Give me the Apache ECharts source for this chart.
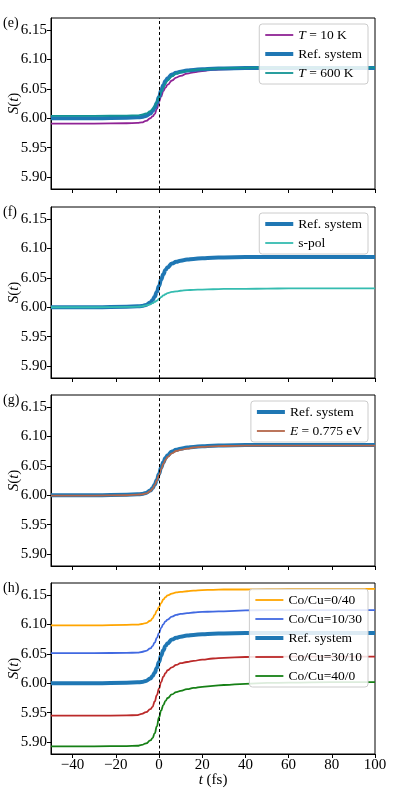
<!DOCTYPE html>
<html>
<head>
<meta charset="utf-8">
<script src="https://cdn.jsdelivr.net/npm/echarts@6/dist/echarts.min.js"></script>
<style>html,body{margin:0;padding:0;background:#fff;}#c{width:398px;height:799px;}</style>
</head>
<body>
<div id="c"></div>
<script>
// ---- data ----
const tVals = [-50,-30,-15,-10,-8,-6,-4,-3,-2,-1,0,1,2,3,4,6,8,10,13,16,20,25,30,40,50,60,80,100];
const xTicks = [-40,-20,0,20,40,60,80,100];
const yTicks = [5.90,5.95,6.00,6.05,6.10,6.15];
const panelLabels = ['(e)','(f)','(g)','(h)'];

const refSys  = [6.000,6.000,6.001,6.0015,6.002,6.004,6.008,6.012,6.018,6.026,6.036,6.047,6.056,6.063,6.068,6.074,6.077,6.079,6.081,6.082,6.083,6.084,6.0845,6.085,6.085,6.085,6.085,6.085];
const t10K    = [5.991,5.991,5.9915,5.992,5.993,5.9955,6.000,6.003,6.007,6.016,6.028,6.037,6.046,6.052,6.057,6.064,6.069,6.072,6.0755,6.078,6.080,6.082,6.083,6.0835,6.0835,6.0835,6.0835,6.0835];
const t600K   = [6.004,6.004,6.0045,6.005,6.006,6.008,6.012,6.016,6.021,6.028,6.036,6.045,6.052,6.059,6.064,6.071,6.076,6.078,6.080,6.082,6.083,6.084,6.085,6.0855,6.086,6.086,6.086,6.086];
const sPol    = [6.000,6.000,6.0005,6.001,6.0015,6.003,6.005,6.007,6.009,6.011,6.014,6.017,6.020,6.022,6.024,6.026,6.027,6.028,6.029,6.0295,6.030,6.0305,6.031,6.0313,6.0315,6.032,6.032,6.032];
const e0775   = [5.9995,5.9995,6.000,6.001,6.0015,6.003,6.007,6.011,6.017,6.025,6.034,6.044,6.053,6.060,6.065,6.071,6.075,6.077,6.079,6.081,6.082,6.083,6.0835,6.084,6.084,6.084,6.084,6.084];
const co0_40  = [6.098,6.098,6.099,6.0995,6.1005,6.102,6.106,6.110,6.116,6.123,6.129,6.136,6.142,6.146,6.149,6.152,6.154,6.155,6.156,6.157,6.158,6.1585,6.159,6.159,6.1595,6.160,6.160,6.160];
const co10_30 = [6.051,6.051,6.0515,6.052,6.053,6.055,6.059,6.063,6.069,6.077,6.085,6.094,6.100,6.105,6.108,6.113,6.116,6.1175,6.119,6.120,6.121,6.1215,6.122,6.1235,6.124,6.124,6.124,6.124];
const co30_10 = [5.945,5.945,5.9455,5.946,5.948,5.951,5.956,5.960,5.969,5.980,5.991,6.002,6.011,6.017,6.022,6.027,6.031,6.034,6.036,6.038,6.040,6.042,6.043,6.0445,6.045,6.045,6.045,6.045];
const co40_0  = [5.893,5.893,5.8935,5.894,5.8955,5.898,5.903,5.907,5.915,5.927,5.942,5.954,5.963,5.970,5.975,5.981,5.985,5.987,5.990,5.992,5.994,5.9955,5.997,5.999,6.0005,6.001,6.002,6.002];

// ---- layout ----
const FONT = 'Liberation Serif';
const gridTops = [18, 207, 395, 583];
const gridH = 171;
const gridLeft = 51, gridWidth = 324;

const pairs = arr => tVals.map((t, i) => [t, arr[i]]);

const grids = gridTops.map(top => ({
  left: gridLeft, top: top, width: gridWidth, height: gridH,
  outerBoundsMode: 'none', containLabel: false,
  show: true, borderColor: '#000', borderWidth: 1, backgroundColor: 'transparent'
}));

const xAxes = gridTops.map((_, i) => ({
  type: 'value', gridIndex: i, min: -50, max: 100,
  axisLine: { show: true, onZero: false, lineStyle: { color: '#000', width: 1 } },
  axisTick: { show: true, inside: false, length: 4, customValues: xTicks, lineStyle: { color: '#000' } },
  axisLabel: {
    show: i === 3, customValues: xTicks, margin: 4,
    fontFamily: FONT, fontSize: 15, color: '#000',
    formatter: v => v < 0 ? '\u2212' + (-v) : String(v)
  },
  splitLine: { show: false },
  name: i === 3 ? '{i|t}{n| (fs)}' : '',
  nameLocation: 'middle', nameGap: 19, nameMoveOverlap: false,
  nameTextStyle: {
    rich: {
      i: { fontFamily: FONT, fontSize: 15, fontStyle: 'italic', color: '#000' },
      n: { fontFamily: FONT, fontSize: 15, color: '#000' }
    }
  }
}));

const yAxes = gridTops.map((_, i) => ({
  type: 'value', gridIndex: i, min: 5.88, max: 6.17,
  axisLine: { show: true, onZero: false, lineStyle: { color: '#000', width: 1 } },
  axisTick: { show: true, inside: false, length: 4, customValues: yTicks, lineStyle: { color: '#000' } },
  axisLabel: {
    customValues: yTicks, margin: 4,
    fontFamily: FONT, fontSize: 15, color: '#000',
    formatter: v => v.toFixed(2)
  },
  splitLine: { show: false },
  name: '{i|S}{n|(}{i|t}{n|)}',
  nameLocation: 'middle', nameGap: 29, nameRotate: 90, nameMoveOverlap: false,
  nameTextStyle: {
    rich: {
      i: { fontFamily: FONT, fontSize: 15, fontStyle: 'italic', color: '#000' },
      n: { fontFamily: FONT, fontSize: 15, color: '#000' }
    }
  }
}));

const vline = {
  silent: true, symbol: ['none', 'none'], animation: false,
  label: { show: false },
  lineStyle: { color: '#000', type: [3, 2.5], width: 1, opacity: 1 },
  emphasis: { disabled: true },
  data: [{ xAxis: 0 }]
};

function line(name, arr, gi, color, width, withVline) {
  const s = {
    type: 'line', name: name, xAxisIndex: gi, yAxisIndex: gi,
    data: pairs(arr), symbol: 'none', showSymbol: false,
    smooth: true, smoothMonotone: 'x',
    lineStyle: { color: color, width: width },
    itemStyle: { color: color },
    emphasis: { disabled: true },
    animation: false
  };
  if (withVline) s.markLine = vline;
  return s;
}

const REF = '#1f77b4';
const series = [
  line('T=10 K', t10K, 0, '#8f2395', 1.8, true),
  line('Ref. system', refSys, 0, REF, 4, false),
  line('T=600 K', t600K, 0, '#119494', 1.8, false),

  line('Ref. system', refSys, 1, REF, 4, true),
  line('s-pol', sPol, 1, '#35bcb0', 1.8, false),

  line('Ref. system', refSys, 2, REF, 4, true),
  line('E=0.775 eV', e0775, 2, '#b5674a', 1.8, false),

  line('Co/Cu=0/40', co0_40, 3, '#ffa500', 1.8, true),
  line('Co/Cu=10/30', co10_30, 3, '#4169e1', 1.8, false),
  line('Ref. system', refSys, 3, REF, 4, false),
  line('Co/Cu=30/10', co30_10, 3, '#bb2a2a', 1.8, false),
  line('Co/Cu=40/0', co40_0, 3, '#168016', 1.8, false)
];

function legendFmt(name) {
  if (name.indexOf('T=') === 0) return '{i|T}{n| = ' + name.slice(2) + '}';
  if (name.indexOf('E=') === 0) return '{i|E}{n| = ' + name.slice(2) + '}';
  return name;
}
const LFS = 13.5;
function mkLegend(names, top) {
  return {
    data: names, orient: 'vertical', right: 30, top: top,
    itemWidth: 28, itemHeight: 14, itemGap: 5,
    padding: [4, 6, 4, 4],
    backgroundColor: 'rgba(255,255,255,0.85)',
    borderColor: '#cccccc', borderWidth: 1, borderRadius: 3,
    selectedMode: false,
    lineStyle: { width: 'inherit' },
    itemStyle: { opacity: 0, borderWidth: 0 },
    formatter: legendFmt,
    textStyle: {
      fontFamily: FONT, fontSize: LFS, color: '#000', lineHeight: 14,
      rich: {
        i: { fontFamily: FONT, fontSize: LFS, fontStyle: 'italic', color: '#000', lineHeight: 14 },
        n: { fontFamily: FONT, fontSize: LFS, color: '#000', lineHeight: 14 }
      }
    }
  };
}

const legends = [
  mkLegend(['T=10 K', 'Ref. system', 'T=600 K'], 24),
  mkLegend(['Ref. system', 's-pol'], 213),
  mkLegend(['Ref. system', 'E=0.775 eV'], 401),
  mkLegend(['Co/Cu=0/40', 'Co/Cu=10/30', 'Ref. system', 'Co/Cu=30/10', 'Co/Cu=40/0'], 589)
];

const graphics = panelLabels.map((txt, i) => ({
  type: 'text', left: 3, top: gridTops[i] - 2,
  style: { text: txt, font: '14px "' + FONT + '"', fill: '#000' }
}));

const chart = echarts.init(document.getElementById('c'), null, { renderer: 'canvas' });
chart.setOption({
  animation: false,
  backgroundColor: '#fff',
  grid: grids,
  xAxis: xAxes,
  yAxis: yAxes,
  legend: legends,
  graphic: graphics,
  series: series
});
</script>
</body>
</html>
